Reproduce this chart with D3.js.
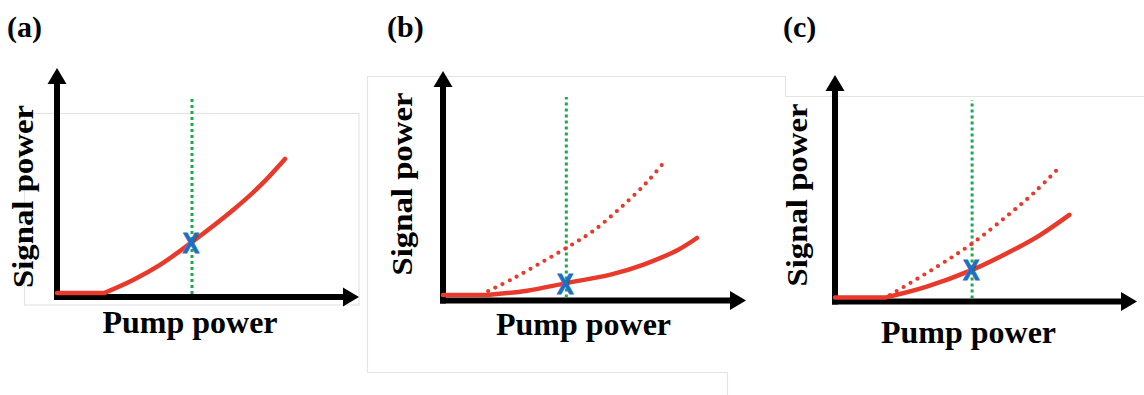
<!DOCTYPE html>
<html>
<head>
<meta charset="utf-8">
<script src="https://cdn.jsdelivr.net/npm/d3@7/dist/d3.min.js"></script>
<style>
  html, body { margin: 0; padding: 0; background: #fff; }
  svg { display: block; }
</style>
</head>
<body>
<svg id="chart" width="1144" height="395"></svg>
<script>
// Panel titles and axis titles
const panelLabels = ["(a)", "(b)", "(c)"];
const xTitle = "Pump power";
const yTitle = "Signal power";
const markerText = "X";

// Signal power vs pump power (arbitrary units, pump 0–10, signal 0–10).
// The first two points of each solid curve are the flat region below threshold.
const solidA = [[0, 0.17], [1.56, 0.17], [2.52, 0.74], [3.41, 1.40], [4.47, 2.40], [5.83, 3.80], [6.72, 4.85], [7.55, 6.03]];
const solidB = [[0, 0.24], [1.46, 0.24], [2.78, 0.43], [4.07, 0.76], [5.53, 1.13], [6.62, 1.57], [7.75, 2.21], [8.38, 2.73]];
const dottedB = [[1.49, 0.41], [2.33, 0.97], [3.30, 1.70], [4.23, 2.42], [4.97, 3.05], [5.86, 4.05], [6.72, 5.15], [7.33, 6.09]];
const solidC = [[0, 0.17], [1.66, 0.17], [3.04, 0.65], [4.54, 1.38], [5.79, 2.17], [6.79, 2.90], [7.76, 3.78]];
const dottedC = [[1.82, 0.28], [3.34, 1.49], [4.55, 2.54], [5.71, 3.75], [6.59, 4.75], [7.43, 5.86]];

// Operating point per panel: pump level, signal on the solid curve, top of guide line
const operatingPump = [4.47, 4.07, 4.54];
const operatingSignal = [2.40, 0.76, 1.38];
const guideTop = [8.73, 8.89, 8.80];

const solidSeries = [solidA, solidB, solidC];
const dottedSeries = [null, dottedB, dottedC];

// Layout of each panel (pixel placement of origin, axis lengths and titles)
const layout = [
  { ox: 57,  oy: 297,   xLen: 302, tipY: 68, label: [7, 37],   xt: [190, 333],   yt: [33, 196.5] },
  { ox: 443, oy: 300.5, xLen: 303, tipY: 71, label: [387, 37], xt: [583.5, 335], yt: [412, 184] },
  { ox: 835, oy: 301.5, xLen: 302, tipY: 75, label: [783, 37], xt: [968.5, 343], yt: [807, 195] }
];

const RED = "#e8392b", GREEN = "#1aab4a", BLUE = "#1e6fc1", FRAME = "#e4e4e4";
const serif = "'Liberation Serif', 'Times New Roman', serif";

const svg = d3.select("#chart");

// Faint frames around the panels
const frames = svg.append("g").attr("fill", "none").attr("stroke", FRAME).attr("stroke-width", 1.2);
frames.append("rect").attr("x", 24.5).attr("y", 113.5).attr("width", 334.5).attr("height", 191.5);
frames.append("path").attr("d", "M367.5,372.5 V76.5 H785.5 V96.5 H1144");
frames.append("path").attr("d", "M367.5,372.5 H727.5 V395");

panelLabels.forEach((lab, i) => {
  const L = layout[i];
  const x = d3.scaleLinear().domain([0, 10]).range([L.ox, L.ox + L.xLen]);
  const y = d3.scaleLinear().domain([0, 10]).range([L.oy, L.oy - 229]);
  const g = svg.append("g");

  // Panel label
  g.append("text").attr("x", L.label[0]).attr("y", L.label[1])
    .attr("font-family", serif).attr("font-weight", "bold").attr("font-size", 30)
    .text(lab);

  // Axes with arrowheads
  const tipX = x(10), tipY = L.tipY, aw = 6, ah = 16, hw = 9.5;
  g.append("line").attr("x1", L.ox - aw / 2).attr("y1", L.oy).attr("x2", tipX - ah + 1).attr("y2", L.oy)
    .attr("stroke", "#000").attr("stroke-width", aw);
  g.append("line").attr("x1", L.ox).attr("y1", L.oy + aw / 2).attr("x2", L.ox).attr("y2", tipY + ah - 1)
    .attr("stroke", "#000").attr("stroke-width", aw);
  g.append("path").attr("fill", "#000")
    .attr("d", `M${tipX},${L.oy} L${tipX - ah},${L.oy - hw} L${tipX - ah},${L.oy + hw} Z`);
  g.append("path").attr("fill", "#000")
    .attr("d", `M${L.ox},${tipY} L${L.ox - hw},${tipY + ah} L${L.ox + hw},${tipY + ah} Z`);

  // Vertical guide at the operating pump level
  g.append("line")
    .attr("x1", x(operatingPump[i])).attr("x2", x(operatingPump[i]))
    .attr("y1", y(0) - 3).attr("y2", y(guideTop[i]))
    .attr("stroke", GREEN).attr("stroke-width", 3).attr("stroke-dasharray", "3 3");

  const flat = d3.line().x(d => x(d[0])).y(d => y(d[1]));
  const smooth = d3.line().x(d => x(d[0])).y(d => y(d[1])).curve(d3.curveCatmullRom.alpha(0.5));

  // Reference curve (dotted)
  if (dottedSeries[i]) {
    g.append("path").datum(dottedSeries[i]).attr("d", smooth)
      .attr("fill", "none").attr("stroke", RED).attr("stroke-width", 4.2)
      .attr("stroke-linecap", "round").attr("stroke-dasharray", "0 8");
  }

  // Measured curve (solid): flat part below threshold, then the rising part
  const s = solidSeries[i];
  g.append("path").attr("d", flat(s.slice(0, 2)) + smooth(s.slice(1)).replace(/^M[^CL]*/, "L" + x(s[1][0]) + "," + y(s[1][1])))
    .attr("fill", "none").attr("stroke", RED).attr("stroke-width", 4.5)
    .attr("stroke-linecap", "round").attr("stroke-linejoin", "round");

  // Operating point marker
  g.append("text")
    .attr("transform", `translate(${x(operatingPump[i]) - 1},${y(operatingSignal[i]) + 10.5}) scale(0.85,1)`)
    .attr("text-anchor", "middle")
    .attr("font-family", "'Liberation Sans', Arial, sans-serif").attr("font-weight", "bold")
    .attr("font-size", 29).attr("fill", BLUE)
    .attr("stroke", BLUE).attr("stroke-width", 1)
    .text(markerText);

  // Axis titles
  g.append("text").attr("x", L.xt[0]).attr("y", L.xt[1])
    .attr("text-anchor", "middle")
    .attr("font-family", serif).attr("font-weight", "bold").attr("font-size", 32)
    .text(xTitle);
  g.append("text")
    .attr("transform", `translate(${L.yt[0]},${L.yt[1]}) rotate(-90)`)
    .attr("text-anchor", "middle")
    .attr("font-family", serif).attr("font-weight", "bold").attr("font-size", 29)
    .attr("textLength", 183).attr("lengthAdjust", "spacingAndGlyphs")
    .text(yTitle);
});
</script>
</body>
</html>
